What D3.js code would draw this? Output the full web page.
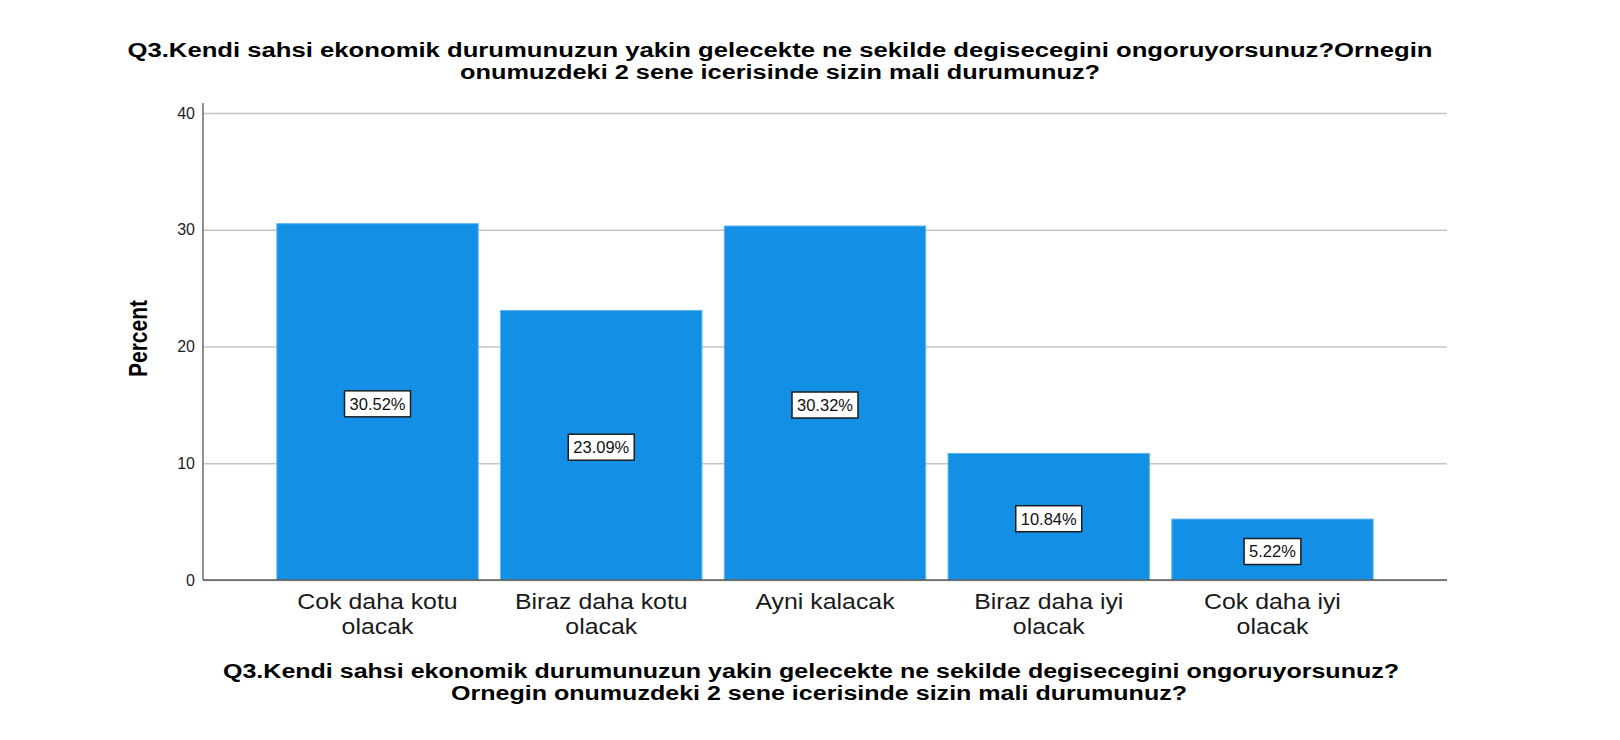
<!DOCTYPE html>
<html>
<head>
<meta charset="utf-8">
<script src="https://cdn.jsdelivr.net/npm/d3@7"></script>
<style>
  html, body { margin: 0; padding: 0; background: #fff; }
  svg { display: block; font-family: "Liberation Sans", Arial, sans-serif; }
</style>
</head>
<body>
<svg id="chart"></svg>
<script>
const titleLines = [
    "Q3.Kendi sahsi ekonomik durumunuzun yakin gelecekte ne sekilde degisecegini ongoruyorsunuz?Ornegin",
    "onumuzdeki 2 sene icerisinde sizin mali durumunuz?"
];
const xTitleLines = [
    "Q3.Kendi sahsi ekonomik durumunuzun yakin gelecekte ne sekilde degisecegini ongoruyorsunuz?",
    "Ornegin onumuzdeki 2 sene icerisinde sizin mali durumunuz?"
];
const categories = ["Cok daha kotu olacak", "Biraz daha kotu olacak", "Ayni kalacak", "Biraz daha iyi olacak", "Cok daha iyi olacak"];
const percents = [30.52, 23.09, 30.32, 10.84, 5.22];
const yTicks = [0, 10, 20, 30, 40];

const width = 1620;
const height = 740;
const margin = { top: 113, right: 173, bottom: 160, left: 203 };

// widths the SPSS-style wide bold text is stretched to
const titleWidths = [1305, 640];
const xTitleWidths = [1176, 736];

const svg = d3.select("#chart")
              .attr("width", width)
              .attr("height", height);

const x = d3.scaleBand()
            .domain(categories)
            .range([margin.left, width - margin.right])
            .paddingInner(0.1)
            .paddingOuter(0.33);

const y = d3.scaleLinear()
            .domain([0, 40])
            .range([height - margin.bottom, margin.top]);

// gridlines + y labels
const yAxis = svg.append("g")
   .attr("transform", `translate(${margin.left},0)`)
   .call(d3.axisLeft(y)
           .tickValues(yTicks)
           .tickSizeInner(-(width - margin.right - margin.left))
           .tickSizeOuter(0)
           .tickPadding(8));
yAxis.select(".domain").remove();
yAxis.selectAll(".tick line").attr("stroke", "#c4c4c4").attr("stroke-width", 1.5);
yAxis.selectAll(".tick text")
     .attr("fill", "#222")
     .style("font-size", "16px")
     .style("font-family", "Liberation Sans, Arial, sans-serif");

// bars
svg.selectAll(".bar")
   .data(percents)
   .enter()
   .append("rect")
   .attr("class", "bar")
   .attr("x", (d, i) => x(categories[i]))
   .attr("y", d => y(d))
   .attr("width", x.bandwidth())
   .attr("height", d => y(0) - y(d))
   .attr("fill", "#1390e6")
   .attr("stroke", "#5db5ee")
   .attr("stroke-width", 1);

// axis lines
svg.append("line")
   .attr("x1", margin.left).attr("x2", margin.left)
   .attr("y1", y(40) - 10).attr("y2", y(0))
   .attr("stroke", "#6b6b6b").attr("stroke-width", 1.5);
svg.append("line")
   .attr("x1", margin.left).attr("x2", width - margin.right)
   .attr("y1", y(0)).attr("y2", y(0))
   .attr("stroke", "#5a5a5a").attr("stroke-width", 1.5);

// value labels
const labels = svg.selectAll(".vlabel")
   .data(percents)
   .enter()
   .append("g")
   .attr("class", "vlabel")
   .attr("transform", (d, i) => `translate(${x(categories[i]) + x.bandwidth() / 2},${y(d / 2) + 2})`);

labels.append("rect")
      .attr("y", -13)
      .attr("height", 26)
      .attr("fill", "#fff")
      .attr("stroke", "#1c1c1c")
      .attr("stroke-width", 1.5);
labels.append("text")
      .attr("text-anchor", "middle")
      .attr("dy", "0.36em")
      .style("font-size", "16.5px")
      .attr("fill", "#111")
      .text(d => d.toFixed(2) + "%");
labels.each(function () {
    const g = d3.select(this);
    const w = g.select("text").node().getComputedTextLength();
    g.select("rect").attr("x", -w / 2 - 5).attr("width", w + 10);
});

// x category labels (wrapped, a little widened like the original)
const xAxis = svg.append("g")
   .attr("transform", `translate(0,${y(0)})`)
   .call(d3.axisBottom(x).tickSize(0).tickPadding(0));
xAxis.select(".domain").remove();
xAxis.selectAll(".tick text")
     .style("font-size", "22px")
     .style("font-family", "Liberation Sans, Arial, sans-serif")
     .attr("fill", "#1a1a1a")
     .each(function (d) {
         const t = d3.select(this);
         const words = d.split(" ");
         t.text(null).attr("y", 0).attr("dy", null);
         let lines = [], cur = [];
         words.forEach(w => {
             cur.push(w);
             t.text(cur.join(" "));
             if (this.getComputedTextLength() > 165 && cur.length > 1) {
                 cur.pop();
                 lines.push(cur.join(" "));
                 cur = [w];
             }
         });
         lines.push(cur.join(" "));
         t.text(null);
         lines.forEach((l, i) => {
             const ts = t.append("tspan").attr("x", 0).attr("y", 29 + i * 25).text(l);
             const w = ts.node().getComputedTextLength();
             ts.attr("textLength", w * 1.13).attr("lengthAdjust", "spacingAndGlyphs");
         });
     });

// title
svg.append("text")
   .attr("text-anchor", "middle")
   .attr("font-weight", "bold")
   .style("font-size", "19.5px")
   .attr("fill", "#000")
   .selectAll("tspan")
   .data(titleLines)
   .enter()
   .append("tspan")
   .attr("x", 780)
   .attr("y", (d, i) => 56.5 + i * 22)
   .attr("textLength", (d, i) => titleWidths[i])
   .attr("lengthAdjust", "spacingAndGlyphs")
   .text(d => d);

// x title
svg.append("text")
   .attr("text-anchor", "middle")
   .attr("font-weight", "bold")
   .style("font-size", "19.5px")
   .attr("fill", "#000")
   .selectAll("tspan")
   .data(xTitleLines)
   .enter()
   .append("tspan")
   .attr("x", (d, i) => i === 0 ? 811 : 819)
   .attr("y", (d, i) => 677.5 + i * 22)
   .attr("textLength", (d, i) => xTitleWidths[i])
   .attr("lengthAdjust", "spacingAndGlyphs")
   .text(d => d);

// y title
svg.append("text")
   .attr("transform", `translate(147,${(y(0) + y(40)) / 2 - 8}) rotate(-90)`)
   .attr("text-anchor", "middle")
   .attr("font-weight", "bold")
   .style("font-size", "25px")
   .attr("textLength", 77)
   .attr("lengthAdjust", "spacingAndGlyphs")
   .attr("fill", "#000")
   .text("Percent");
</script>
</body>
</html>
